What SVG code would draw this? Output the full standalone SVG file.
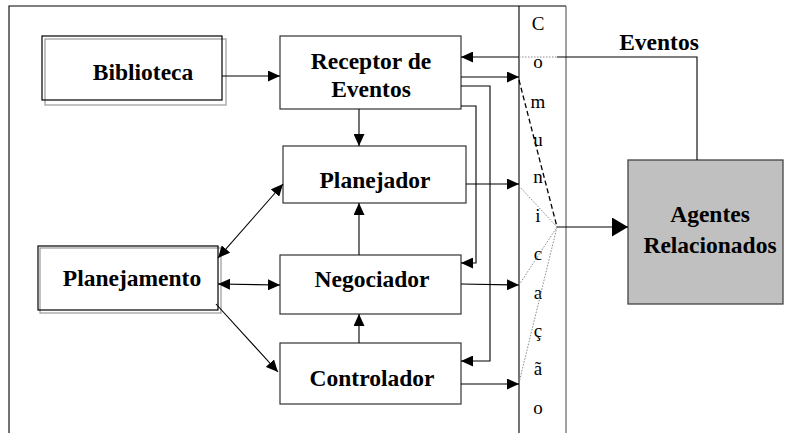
<svg xmlns="http://www.w3.org/2000/svg" width="788" height="433" viewBox="0 0 788 433">
<style>
.box{fill:#fff;stroke:#333;stroke-width:1.2}
.blk{fill:none;stroke:#000;stroke-width:1.2}
.gry{fill:none;stroke:#999;stroke-width:1.2}
.lbl{font-weight:bold;font-size:23.5px;fill:#000;text-anchor:middle}
.col{font-size:19px;fill:#000;text-anchor:middle}
.ln{fill:none;stroke:#000;stroke-width:1.1}
.dot{fill:none;stroke:#888;stroke-width:1;stroke-dasharray:1.5 1.5}
.dash{fill:none;stroke:#000;stroke-width:1.3;stroke-dasharray:5 3}
</style>
<defs>
<marker id="ah" markerUnits="userSpaceOnUse" markerWidth="13" markerHeight="11" refX="12" refY="5.5" orient="auto-start-reverse"><path d="M0,0 L12,5.5 L0,11 Z" fill="#000"/></marker>
<marker id="big" markerUnits="userSpaceOnUse" markerWidth="17" markerHeight="19" refX="16" refY="9.5" orient="auto"><path d="M0,0 L16,9.5 L0,19 Z" fill="#000"/></marker>
</defs>
<rect width="788" height="433" fill="#fff"/>
<g id="frame">
<path class="ln" d="M9,433 V6 H566"/>
<line x1="519" y1="6" x2="519" y2="433" stroke="#000" stroke-width="1.1"/>
<line x1="566" y1="6" x2="566" y2="433" stroke="#555" stroke-width="1.1"/>
</g>
<g font-family="'Liberation Serif', 'DejaVu Serif', serif">
<g id="comunicacao">
<text class="col" x="538" y="30">C</text>
<text class="col" x="538" y="68">o</text>
<text class="col" x="538" y="108">m</text>
<text class="col" x="538" y="146">u</text>
<text class="col" x="538" y="183">n</text>
<text class="col" x="538" y="222">i</text>
<text class="col" x="538" y="260">c</text>
<text class="col" x="538" y="299">a</text>
<text class="col" x="538" y="337">ç</text>
<text class="col" x="538" y="375">ã</text>
<text class="col" x="538" y="414">o</text>
</g>
<g id="biblioteca">
<rect class="gry" x="45" y="39" width="181" height="66"/>
<rect class="blk" x="42" y="36" width="180" height="64"/>
<text class="lbl" x="143" y="80">Biblioteca</text>
</g>
<g id="receptor">
<rect class="box" x="280" y="36" width="181" height="73"/>
<text class="lbl" x="371" y="69">Receptor de</text>
<text class="lbl" x="371" y="97">Eventos</text>
</g>
<g id="planejador">
<rect class="box" x="283" y="146" width="183" height="57"/>
<text class="lbl" x="375" y="188">Planejador</text>
</g>
<g id="negociador">
<rect class="box" x="280" y="255" width="181" height="59"/>
<text class="lbl" x="372" y="287">Negociador</text>
</g>
<g id="controlador">
<rect class="box" x="280" y="343" width="181" height="61"/>
<text class="lbl" x="372" y="386">Controlador</text>
</g>
<g id="planejamento">
<rect class="gry" x="40" y="248" width="181" height="65"/>
<rect class="blk" x="38" y="246" width="180" height="64"/>
<text class="lbl" x="132" y="286">Planejamento</text>
</g>
<g id="agentes">
<rect x="628" y="160" width="155" height="144" fill="#c0c0c0" stroke="#444" stroke-width="1.3"/>
<text class="lbl" x="710" y="222" font-size="25.5">Agentes</text>
<text class="lbl" x="710" y="253" font-size="25.5">Relacionados</text>
</g>
<g id="eventos-label">
<text class="lbl" x="659" y="50">Eventos</text>
</g>
</g>
<g id="connectors">
<line class="ln" x1="222" y1="76" x2="280" y2="76" marker-end="url(#ah)"/>
<line class="ln" x1="359" y1="109" x2="359" y2="146" marker-end="url(#ah)"/>
<line class="ln" x1="359" y1="255" x2="359" y2="203" marker-end="url(#ah)"/>
<line class="ln" x1="359" y1="343" x2="359" y2="314" marker-end="url(#ah)"/>
<line class="ln" x1="218" y1="258" x2="283" y2="184" marker-start="url(#ah)" marker-end="url(#ah)"/>
<line class="ln" x1="218" y1="284" x2="280" y2="285" marker-start="url(#ah)" marker-end="url(#ah)"/>
<line class="ln" x1="216" y1="304" x2="278" y2="372" marker-end="url(#ah)"/>
<line class="ln" x1="461" y1="77" x2="519" y2="77" marker-end="url(#ah)"/>
<line class="ln" x1="466" y1="184" x2="519" y2="184" marker-end="url(#ah)"/>
<line class="ln" x1="461" y1="284" x2="519" y2="285" marker-end="url(#ah)"/>
<line class="ln" x1="461" y1="384" x2="519" y2="384" marker-end="url(#ah)"/>
<line class="ln" x1="519" y1="57" x2="461" y2="57" marker-end="url(#ah)"/>
<line class="dot" x1="519" y1="57" x2="557" y2="57"/>
<path class="ln" d="M557,57 H697 V160"/>
<path class="ln" d="M461,86 H490 V361 H461" marker-end="url(#ah)"/>
<path class="ln" d="M461,106 H476 V263 H461" marker-end="url(#ah)"/>
<line class="dash" x1="519" y1="80" x2="557" y2="227"/>
<line class="dot" x1="519" y1="186" x2="557" y2="227"/>
<line class="dot" x1="519" y1="285" x2="557" y2="227"/>
<line class="dot" x1="519" y1="383" x2="557" y2="227"/>
<line class="ln" x1="557" y1="227" x2="628" y2="227" marker-end="url(#big)"/>
</g>
</svg>
